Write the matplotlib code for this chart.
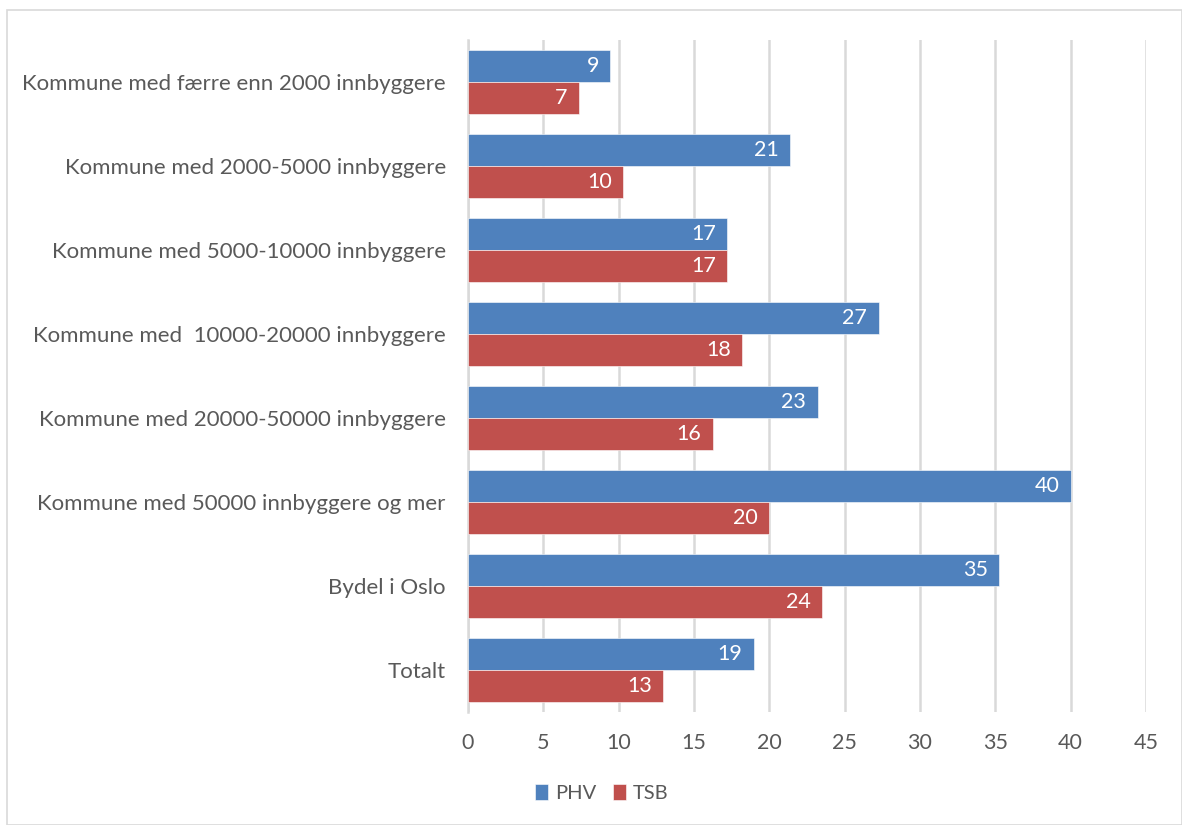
import matplotlib
matplotlib.use("Agg")
import matplotlib.pyplot as plt
from matplotlib.patches import Rectangle
import numpy as np

plt.rcParams['font.family'] = ['Lato', 'DejaVu Sans']

categories = [
    "Kommune med færre enn 2000 innbyggere",
    "Kommune med 2000-5000 innbyggere",
    "Kommune med 5000-10000 innbyggere",
    "Kommune med  10000-20000 innbyggere",
    "Kommune med 20000-50000 innbyggere",
    "Kommune med 50000 innbyggere og mer",
    "Bydel i Oslo",
    "Totalt",
]
phv_values = [9.45, 21.4, 17.2, 27.25, 23.2, 40.0, 35.25, 18.95]
tsb_values = [7.35, 10.3, 17.2, 18.2, 16.25, 19.95, 23.5, 12.95]
phv_labels = ["9", "21", "17", "27", "23", "40", "35", "19"]
tsb_labels = ["7", "10", "17", "18", "16", "20", "24", "13"]
x_ticks = [0, 5, 10, 15, 20, 25, 30, 35, 40, 45]
series_names = ["PHV", "TSB"]
colors = ["#4F81BD", "#C0504D"]
text_color = "#595959"

fig = plt.figure(figsize=(11.82, 8.25), dpi=100)
# outer chart frame
fig.patches.append(Rectangle((7/1182, 0), 1 - 7/1182, 1 - 10/825, transform=fig.transFigure,
                             fill=False, edgecolor="#D9D9D9", linewidth=1.2))

ax = fig.add_axes([468/1182, 1 - 712/825, (1146 - 468)/1182, (712 - 40)/825])

n = len(categories)
y = np.arange(n)
h = 0.38
ax.barh(y - h/2, phv_values, height=h, color=colors[0], label=series_names[0],
        edgecolor="white", linewidth=0.4, zorder=3)
ax.barh(y + h/2, tsb_values, height=h, color=colors[1], label=series_names[1],
        edgecolor="white", linewidth=0.4, zorder=3)

for yi, v, lab in zip(y, phv_values, phv_labels):
    ax.text(v - 0.75, yi - h/2, lab, ha="right", va="center", color="white", fontsize=15.5, zorder=4)
for yi, v, lab in zip(y, tsb_values, tsb_labels):
    ax.text(v - 0.75, yi + h/2, lab, ha="right", va="center", color="white", fontsize=15.5, zorder=4)

ax.set_ylim(n - 0.5, -0.5)
ax.set_xlim(0, 45)
ax.set_xticks(x_ticks)
ax.set_xticklabels([str(t) for t in x_ticks])
ax.set_yticks(y)
ax.set_yticklabels(categories)
ax.tick_params(axis="x", length=0, pad=15, labelsize=15.5, labelcolor=text_color)
ax.tick_params(axis="y", length=0, pad=16, labelsize=16, labelcolor=text_color)
ax.grid(axis="x", color="#D9D9D9", linewidth=1.8, zorder=0)
ax.set_axisbelow(True)
for s in ["top", "right", "bottom"]:
    ax.spines[s].set_visible(False)
ax.spines["left"].set_color("#D9D9D9")
ax.spines["left"].set_linewidth(1.8)

leg = fig.legend(loc="center", bbox_to_anchor=(602/1182, 1 - 793/825), ncol=2, frameon=False,
                 fontsize=14.5, handlelength=0.65, handleheight=0.85, handletextpad=0.35,
                 columnspacing=0.8)
for t in leg.get_texts():
    t.set_color(text_color)

fig.savefig("out.png", dpi=100)
